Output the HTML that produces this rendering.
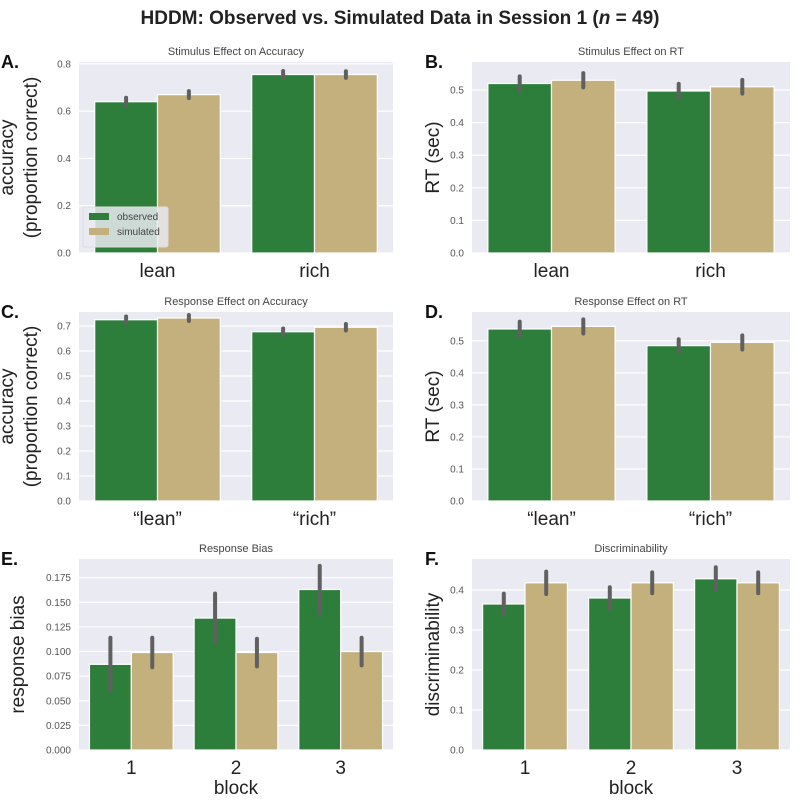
<!DOCTYPE html>
<html><head><meta charset="utf-8"><style>
body{margin:0;background:#fff;font-family:"Liberation Sans",sans-serif}
svg text{font-family:"Liberation Sans",sans-serif}
</style></head><body>
<svg id="fig" width="800" height="803" xmlns="http://www.w3.org/2000/svg">
<text x="400" y="24" text-anchor="middle" font-size="19" font-weight="bold" fill="#222">HDDM: Observed vs. Simulated Data in Session 1 (<tspan font-style="italic">n</tspan> = 49)</text>
</svg>
<script>
const catsAB = ["lean","rich"];
const catsCD = ["\u201clean\u201d","\u201crich\u201d"];
const catsEF = ["1","2","3"];
const obsA = [0.64, 0.755], simA = [0.67, 0.755];
const obsAerr = [0.017, 0.015], simAerr = [0.015, 0.014];
const obsB = [0.52, 0.497], simB = [0.53, 0.51];
const obsBerr = [0.022, 0.022], simBerr = [0.022, 0.021];
const obsC = [0.725, 0.677], simC = [0.732, 0.695];
const obsCerr = [0.013, 0.013], simCerr = [0.012, 0.013];
const obsD = [0.537, 0.485], simD = [0.545, 0.495];
const obsDerr = [0.023, 0.02], simDerr = [0.022, 0.022];
const obsE = [0.087, 0.134, 0.163], simE = [0.099, 0.099, 0.1];
const obsEerr = [0.027, 0.025, 0.024], simEerr = [0.015, 0.014, 0.014];
const obsF = [0.365, 0.38, 0.428], simF = [0.418, 0.418, 0.418];
const obsFerr = [0.026, 0.027, 0.029], simFerr = [0.028, 0.026, 0.026];
const ticksA = [0,0.2,0.4,0.6,0.8], ticksAlbl = ["0.0","0.2","0.4","0.6","0.8"];
const ticksB = [0,0.1,0.2,0.3,0.4,0.5], ticksBlbl = ["0.0","0.1","0.2","0.3","0.4","0.5"];
const ticksC = [0,0.1,0.2,0.3,0.4,0.5,0.6,0.7], ticksClbl = ["0.0","0.1","0.2","0.3","0.4","0.5","0.6","0.7"];
const ticksE = [0,0.025,0.05,0.075,0.1,0.125,0.15,0.175], ticksElbl = ["0.000","0.025","0.050","0.075","0.100","0.125","0.150","0.175"];
const ticksF = [0,0.1,0.2,0.3,0.4], ticksFlbl = ["0.0","0.1","0.2","0.3","0.4"];

const NS="http://www.w3.org/2000/svg";
const svg=document.getElementById('fig');
function mk(tag,attrs,parent){const e=document.createElementNS(NS,tag);for(const k in attrs)e.setAttribute(k,attrs[k]);(parent||svg).appendChild(e);return e;}

function panel(key,letter,title,x0,x1,y0,y1,ymax,cats,obs,sim,oe,se,ticks,tlbl,ylabel,xlabel,legend){
  const right=(key==='B'||key==='D'||key==='F');
  const g=mk('g',{});
  
  
  const ys=v=>y1-(v/ymax)*(y1-y0);
  const bg=mk('rect',{x:x0,y:y0,width:x1-x0,height:y1-y0,fill:'#eaeaf2'},g);
  
  
  ticks.forEach((t,i)=>{
    const gl=mk('line',{x1:x0,x2:x1,y1:ys(t),y2:ys(t),stroke:'#fff','stroke-width':1.2},g);
    
    
    const tl=mk('text',{x:x0-8,y:ys(t)+3.5,'text-anchor':'end','font-size':10,fill:'#555'},g);
    tl.textContent=tlbl[i];
    
    
  });
  const n=cats.length, slot=(x1-x0)/n, bw=slot*0.8/2;
  cats.forEach((c,i)=>{
    const cx=x0+slot*(i+0.5);
    [[obs,oe,'#2d7d3b','observed'],[sim,se,'#c4b07c','simulated']].forEach((s,j)=>{
      const bx=cx-bw+j*bw;
      const r=mk('rect',{x:bx,y:ys(s[0][i]),width:bw,height:y1-ys(s[0][i]),fill:s[2],stroke:'#fff','stroke-width':1.2},g);
      
      
      const e=mk('line',{x1:bx+bw/2,x2:bx+bw/2,y1:ys(s[0][i]-s[1][i]),y2:ys(s[0][i]+s[1][i]),stroke:'#606060','stroke-width':4,'stroke-linecap':'round'},g);
      
      
    });
    const cl=mk('text',{x:cx,y:y1+24,'text-anchor':'middle','font-size':19,fill:'#222'},g);
    cl.textContent=c;
    
    
  });
  const tt=mk('text',{x:(x0+x1)/2,y:y0-7,'text-anchor':'middle','font-size':11,fill:'#444'},g);
  tt.textContent=title;
  
  
  const lt=mk('text',{x:right?x0-47:x0-78,y:y0+6,'font-size':18,'font-weight':'bold',fill:'#111'},g);
  lt.textContent=letter;
  
  
  const my=(y0+y1)/2;
  ylabel.forEach((yl,k)=>{
    const lx=right?x0-33:(ylabel.length>1?x0-66+k*24:x0-55);
    const t=mk('text',{x:lx,y:my,'text-anchor':'middle','font-size':19,fill:'#222',transform:`rotate(-90 ${lx} ${my})`},g);
    t.textContent=yl;
    
    
  });
  if(xlabel){
    const t=mk('text',{x:(x0+x1)/2,y:y1+44,'text-anchor':'middle','font-size':19,fill:'#222'},g);
    t.textContent=xlabel;
    
    
  }
  if(legend){
    const lg=mk('g',{},g);
    
    
    mk('rect',{x:x0+4,y:y1-46,width:85,height:40,fill:'#eaeaf2','fill-opacity':0.85,stroke:'#ddd',rx:2},lg);
    [['observed','#2d7d3b'],['simulated','#c4b07c']].forEach((s,k)=>{
      const le=mk('g',{},lg);
      
      
      mk('rect',{x:x0+10,y:y1-40+k*15,width:20,height:7,fill:s[1]},le);
      const t=mk('text',{x:x0+38,y:y1-33+k*15,'font-size':10,fill:'#444'},le);
      t.textContent=s[0];
    });
  }
}
panel('A','A.','Stimulus Effect on Accuracy',79,393,62,253,0.808,catsAB,obsA,simA,obsAerr,simAerr,ticksA,ticksAlbl,['accuracy','(proportion correct)'],null,true);
panel('B','B.','Stimulus Effect on RT',472,790,62,253,0.586,catsAB,obsB,simB,obsBerr,simBerr,ticksB,ticksBlbl,['RT (sec)'],null,false);
panel('C','C.','Response Effect on Accuracy',79,393,312,501,0.756,catsCD,obsC,simC,obsCerr,simCerr,ticksC,ticksClbl,['accuracy','(proportion correct)'],null,false);
panel('D','D.','Response Effect on RT',472,790,312,501,0.59,catsCD,obsD,simD,obsDerr,simDerr,ticksB,ticksBlbl,['RT (sec)'],null,false);
panel('E','E.','Response Bias',79,393,559,750,0.194,catsEF,obsE,simE,obsEerr,simEerr,ticksE,ticksElbl,['response bias'],'block',false);
panel('F','F.','Discriminability',472,790,559,750,0.4775,catsEF,obsF,simF,obsFerr,simFerr,ticksF,ticksFlbl,['discriminability'],'block',false);
</script>
</body></html>
